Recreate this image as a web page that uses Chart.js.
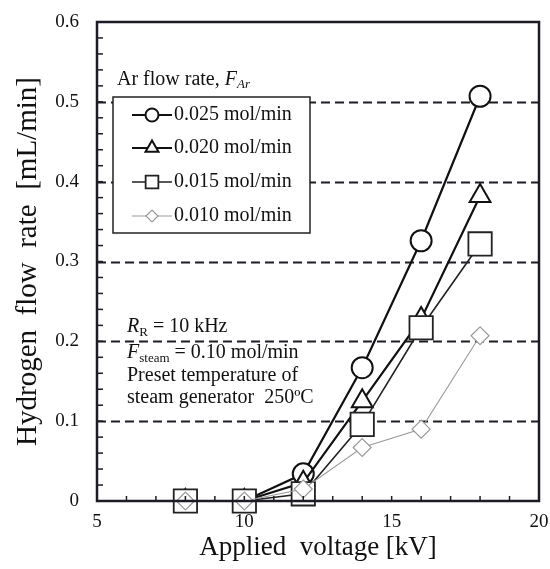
<!DOCTYPE html>
<html>
<head>
<meta charset="utf-8">
<script src="https://cdn.jsdelivr.net/npm/chart.js@4"></script>
<style>
  html, body { margin: 0; padding: 0; background: #fff; }
  #wrap { width: 550px; height: 569px; }
</style>
</head>
<body>
<div id="wrap"><canvas id="h2Chart"></canvas></div>
<script>
// valeurs
var voltages = [8, 10, 12, 14, 16, 18];
var h2Ar025 = [0, 0, 0.034, 0.167, 0.326, 0.507];
var h2Ar020 = [0, 0, 0.023, 0.125, 0.228, 0.382];
var h2Ar015 = [0, 0, 0.009, 0.096, 0.217, 0.322];
var h2Ar010 = [0, 0, 0.015, 0.067, 0.090, 0.207];
var seriesLabels = ['0.025 mol/min', '0.020 mol/min', '0.015 mol/min', '0.010 mol/min'];
var yTicks = [0, 0.1, 0.2, 0.3, 0.4, 0.5, 0.6];
var xTicks = [5, 10, 15, 20];
var dashedLevels = [0.1, 0.2, 0.3, 0.4, 0.5];

var SERIF = "'Liberation Serif', 'Times New Roman', serif";
var INK = '#1c1c26';

function toPoints(ys) {
    return ys.map(function (y, i) { return { x: voltages[i], y: y }; });
}

// lignes pointillées horizontales
var dashedGrid = {
    id: 'dashedGrid',
    beforeDatasetsDraw: function (chart) {
        var ctx = chart.ctx, area = chart.chartArea, y = chart.scales.y;
        ctx.save();
        ctx.strokeStyle = INK;
        ctx.lineWidth = 1.8;
        ctx.setLineDash([9, 5]);
        dashedLevels.forEach(function (v) {
            var py = Math.round(y.getPixelForValue(v)) + 0.5;
            ctx.beginPath();
            ctx.moveTo(area.left, py);
            ctx.lineTo(area.right, py);
            ctx.stroke();
        });
        ctx.restore();
    }
};

function drawRich(ctx, parts, x, y) {
    parts.forEach(function (p) {
        ctx.font = p.font;
        ctx.fillText(p.text, x, y + (p.dy || 0));
        x += ctx.measureText(p.text).width;
    });
}

// cadre, graduations internes, légende et annotations
var frameAndNotes = {
    id: 'frameAndNotes',
    afterDraw: function (chart) {
        var ctx = chart.ctx, a = chart.chartArea;
        var xs = chart.scales.x, ys = chart.scales.y;
        ctx.save();

        // graduations mineures vers l'intérieur
        ctx.strokeStyle = INK;
        ctx.lineWidth = 1.5;
        ctx.setLineDash([]);
        for (var k = 0; k <= 30; k++) {
            var py = ys.getPixelForValue(k * 0.02);
            ctx.beginPath();
            ctx.moveTo(a.left, py);
            ctx.lineTo(a.left + 6, py);
            ctx.stroke();
        }
        for (var v = 5; v <= 20; v++) {
            var px = xs.getPixelForValue(v);
            ctx.beginPath();
            ctx.moveTo(px, a.bottom);
            ctx.lineTo(px, a.bottom - 5);
            ctx.stroke();
        }

        // cadre
        ctx.lineWidth = 2.5;
        ctx.strokeRect(a.left, a.top, a.right - a.left, a.bottom - a.top);

        // titre de la légende
        ctx.fillStyle = '#111';
        ctx.textBaseline = 'middle';
        ctx.textAlign = 'left';
        drawRich(ctx, [
            { text: 'Ar flow rate, ', font: '20px ' + SERIF },
            { text: 'F', font: 'italic 20px ' + SERIF },
            { text: 'Ar', font: 'italic 13px ' + SERIF, dy: 5 }
        ], 117, 80);

        // boîte de légende
        var bx = 113, by = 97, bw = 197, bh = 136;
        ctx.fillStyle = '#fff';
        ctx.fillRect(bx, by, bw, bh);
        ctx.strokeStyle = '#222';
        ctx.lineWidth = 1.5;
        ctx.strokeRect(bx, by, bw, bh);

        var rowsY = [115, 148, 182, 216];
        var legendRadius = [6.5, 7.5, 9, 6];
        chart.data.datasets.forEach(function (ds, i) {
            var ry = rowsY[i];
            ctx.strokeStyle = ds.borderColor;
            ctx.lineWidth = ds.borderWidth;
            ctx.beginPath();
            ctx.moveTo(132, ry);
            ctx.lineTo(172, ry);
            ctx.stroke();
            ctx.fillStyle = '#fff';
            ctx.lineWidth = ds.pointBorderWidth;
            Chart.helpers.drawPoint(ctx, {
                pointStyle: ds.pointStyle,
                radius: legendRadius[i],
                rotation: 0,
                borderWidth: ds.pointBorderWidth
            }, 152, ry);
            ctx.fillStyle = '#111';
            ctx.font = '20px ' + SERIF;
            ctx.fillText(ds.label, 174, ry);
        });

        // conditions expérimentales
        ctx.fillStyle = '#111';
        drawRich(ctx, [
            { text: 'R', font: 'italic 20px ' + SERIF },
            { text: 'R', font: '13px ' + SERIF, dy: 6 },
            { text: ' = 10 kHz', font: '20px ' + SERIF }
        ], 127, 327);
        drawRich(ctx, [
            { text: 'F', font: 'italic 20px ' + SERIF },
            { text: 'steam', font: '13px ' + SERIF, dy: 6 },
            { text: ' = 0.10 mol/min', font: '20px ' + SERIF }
        ], 127, 353);
        ctx.font = '20px ' + SERIF;
        ctx.fillText('Preset temperature of', 127, 376);
        ctx.fillText('steam generator  250\u00baC', 127, 398);

        ctx.restore();
    }
};

var ctx = document.getElementById('h2Chart').getContext('2d');
var h2Chart = new Chart(ctx, {
    type: 'scatter',
    data: {
        datasets: [{
            label: seriesLabels[0],
            data: toPoints(h2Ar025),
            showLine: true,
            clip: false,
            borderColor: '#111',
            borderWidth: 2.2,
            pointStyle: 'circle',
            pointRadius: 10.5,
            pointBorderWidth: 2,
            pointBackgroundColor: '#fff',
            pointBorderColor: '#111',
            order: 4
        },
        {
            label: seriesLabels[1],
            data: toPoints(h2Ar020),
            showLine: true,
            clip: false,
            borderColor: '#111',
            borderWidth: 2.2,
            pointStyle: 'triangle',
            pointRadius: 12,
            pointBorderWidth: 2,
            pointBackgroundColor: '#fff',
            pointBorderColor: '#111',
            order: 3
        },
        {
            label: seriesLabels[2],
            data: toPoints(h2Ar015),
            showLine: true,
            clip: false,
            borderColor: '#222',
            borderWidth: 1.6,
            pointStyle: 'rect',
            pointRadius: 16.5,
            pointBorderWidth: 1.8,
            pointBackgroundColor: '#fff',
            pointBorderColor: '#222',
            order: 2
        },
        {
            label: seriesLabels[3],
            data: toPoints(h2Ar010),
            showLine: true,
            clip: false,
            borderColor: '#9a9a9a',
            borderWidth: 1.1,
            pointStyle: 'rectRot',
            pointRadius: 9,
            pointBorderWidth: 1.2,
            pointBackgroundColor: '#fff',
            pointBorderColor: '#9a9a9a',
            order: 1
        }]
    },
    options: {
        responsive: true,
        maintainAspectRatio: false,
        animation: false,
        layout: {
            autoPadding: false,
            padding: { top: 22, right: 11, left: 0, bottom: 0 }
        },
        plugins: {
            legend: { display: false },
            tooltip: { enabled: false }
        },
        scales: {
            x: {
                type: 'linear',
                min: 5,
                max: 20,
                afterBuildTicks: function (scale) {
                    scale.ticks = xTicks.map(function (v) { return { value: v }; });
                },
                afterFit: function (scale) {
                    scale.height = 68;
                    scale.paddingLeft = 0;
                    scale.paddingRight = 0;
                },
                // graduations invisibles : servent seulement à décaler les étiquettes
                grid: {
                    display: true,
                    drawOnChartArea: false,
                    drawTicks: true,
                    tickLength: 10,
                    color: 'rgba(0,0,0,0)'
                },
                border: { display: false },
                ticks: {
                    padding: 0,
                    color: '#111',
                    font: { family: SERIF, size: 19 }
                },
                title: {
                    display: true,
                    text: 'Applied  voltage [kV]',
                    color: '#111',
                    font: { family: SERIF, size: 27 },
                    padding: { top: 0, bottom: 5 }
                }
            },
            y: {
                type: 'linear',
                min: 0,
                max: 0.6,
                afterBuildTicks: function (scale) {
                    scale.ticks = yTicks.map(function (v) { return { value: v }; });
                },
                afterFit: function (scale) {
                    scale.width = 97;
                    scale.paddingTop = 0;
                    scale.paddingBottom = 0;
                },
                grid: { display: false, drawTicks: false },
                border: { display: false },
                ticks: {
                    padding: 18,
                    color: '#111',
                    font: { family: SERIF, size: 19 },
                    callback: function (v) { return v === 0 ? '0' : v.toFixed(1); }
                },
                title: {
                    display: true,
                    text: 'Hydrogen  flow  rate  [mL/min]',
                    color: '#111',
                    font: { family: SERIF, size: 29 },
                    padding: { top: 11, bottom: 0 }
                }
            }
        }
    },
    plugins: [dashedGrid, frameAndNotes]
});
</script>
</body>
</html>
